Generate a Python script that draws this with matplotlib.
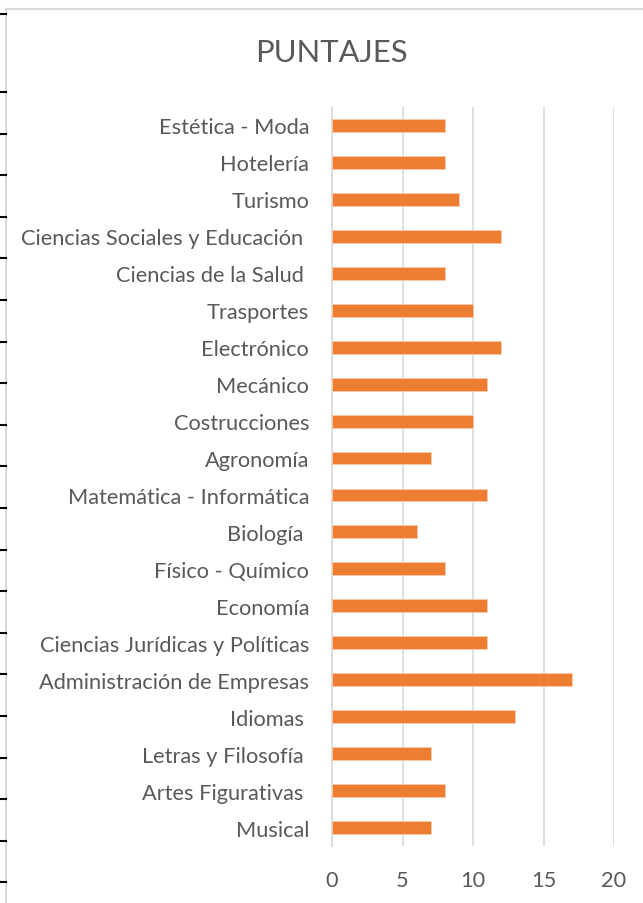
import matplotlib
matplotlib.use("Agg")
import matplotlib.pyplot as plt
from matplotlib.lines import Line2D

categories = ["Musical", "Artes Figurativas ", "Letras y Filosofía ", "Idiomas ",
              "Administración de Empresas", "Ciencias Jurídicas y Políticas", "Economía",
              "Físico - Químico", "Biología ", "Matemática - Informática", "Agronomía",
              "Costrucciones", "Mecánico", "Electrónico", "Trasportes",
              "Ciencias de la Salud ", "Ciencias Sociales y Educación ", "Turismo",
              "Hotelería", "Estética - Moda"]
values = [7, 8, 7, 13, 17, 11, 11, 8, 6, 11, 7, 10, 11, 12, 10, 8, 12, 9, 8, 8]
xticks = [0, 5, 10, 15, 20]
title = "PUNTAJES"

plt.rcParams['font.family'] = ['Lato', 'DejaVu Sans']
W, H = 643, 904
fig = plt.figure(figsize=(W / 100, H / 100), dpi=100)
ax = fig.add_axes([332 / W, 1 - 847 / H, (614 - 332) / W, (847 - 108) / H])

y = list(range(len(categories)))
ax.barh(y, values, height=0.35, color="#ED7D31", edgecolor="#F8CBAD", linewidth=0.6, zorder=3)
ax.set_ylim(-0.5, len(categories) - 0.5)
ax.set_xlim(0, 20)
ax.set_xticks(xticks)
ax.set_xticklabels([str(t) for t in xticks])
ax.set_yticks(y)
ax.set_yticklabels(categories)
ax.tick_params(axis="both", length=0, labelsize=15.7, colors="#595959")
ax.tick_params(axis="y", pad=16.5)
ax.tick_params(axis="x", pad=17)
ax.grid(axis="x", color="#D9D9D9", linewidth=1.2, zorder=0)
for s in ["top", "right", "bottom"]:
    ax.spines[s].set_visible(False)
ax.spines["left"].set_color("#D9D9D9")
ax.spines["left"].set_linewidth(1.2)

fig.text(331 / W, 1 - 53 / H, title, ha="center", va="center", fontsize=22.3, color="#595959")

# worksheet border artifacts
fig.add_artist(Line2D([6 / W, 6 / W], [0, 1 - 10 / H], color="#D9D9D9", lw=1.5))
fig.add_artist(Line2D([6 / W, 1], [1 - 10 / H, 1 - 10 / H], color="#D9D9D9", lw=1.5))
tick_ys = [15] + [93 + 41.6 * i for i in range(20) if 93 + 41.6 * i < H]
for ty in tick_ys:
    fig.add_artist(Line2D([0, 6 / W], [1 - ty / H, 1 - ty / H], color="black", lw=1.5))

fig.savefig("out.png", dpi=100, facecolor="white")
